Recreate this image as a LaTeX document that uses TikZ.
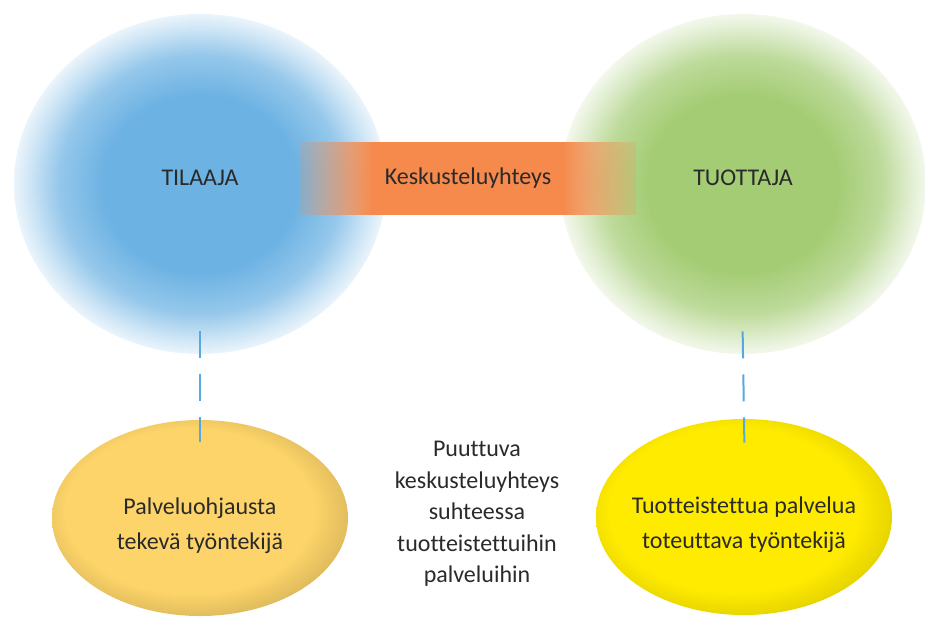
\documentclass[tikz,border=0pt]{standalone}
\usepackage{fontspec}
\setmainfont{Carlito}[Ligatures=NoCommon]
\usetikzlibrary{shapes.geometric,fadings}

\definecolor{tilaajaC}{HTML}{6CB2E3}
\definecolor{tuottajaC}{HTML}{A4CC74}
\definecolor{bandC}{HTML}{F58A4C}
\definecolor{palveluC}{HTML}{FDD469}
\definecolor{tuoteC}{HTML}{FFEB00}
\definecolor{dashC}{HTML}{55A8E0}
\definecolor{textC}{HTML}{2A2A2A}

\pgfdeclareradialshading{tilaajafuzz}{\pgfpoint{0bp}{0bp}}{color(0bp)=(tilaajaC); color(13bp)=(tilaajaC); color(19bp)=(tilaajaC!72!white); color(23bp)=(tilaajaC!32!white); color(25bp)=(tilaajaC!14!white); color(50bp)=(white)}
\pgfdeclareradialshading{tuottajafuzz}{\pgfpoint{0bp}{0bp}}{color(0bp)=(tuottajaC); color(13bp)=(tuottajaC); color(19bp)=(tuottajaC!72!white); color(23bp)=(tuottajaC!32!white); color(25bp)=(tuottajaC!14!white); color(50bp)=(white)}
\pgfdeclareradialshading{palveluball}{\pgfpoint{-3bp}{3bp}}{color(0bp)=(palveluC); color(21bp)=(palveluC); color(27bp)=(palveluC!88!black); color(32bp)=(palveluC!82!black); color(50bp)=(palveluC!82!black)}
\pgfdeclareradialshading{tuoteball}{\pgfpoint{-3bp}{3bp}}{color(0bp)=(tuoteC); color(21bp)=(tuoteC); color(27bp)=(tuoteC!90!black); color(32bp)=(tuoteC!84!black); color(50bp)=(tuoteC!84!black)}

\begin{tikzfadingfrompicture}[name=bandfade]
  \fill[transparent!100] (-50bp,-50bp) rectangle (50bp,50bp);
  \shade[left color=transparent!85, right color=transparent!0] (-25bp,-50bp) rectangle (-14bp,50bp);
  \fill[transparent!0] (-14bp,-50bp) rectangle (14bp,50bp);
  \shade[left color=transparent!0, right color=transparent!85] (14bp,-50bp) rectangle (25bp,50bp);
\end{tikzfadingfrompicture}

\tikzset{
  every node/.style={text=textC, font=\fontsize{12pt}{15.75pt}\selectfont},
  fuzzball/.style={ellipse, inner sep=0pt, minimum width=#1},
  caption/.style={align=center, font=\fontsize{12pt}{17.5pt}\selectfont, yshift=-4pt},
  dashline/.style={dashC, line width=1pt, dash pattern=on 13.5pt off 8pt}
}

\begin{document}
\begin{tikzpicture}[x=0.5pt, y=-0.5pt]
  \useasboundingbox (0,0) rectangle (925,622);
  \node[fuzzball=186pt, minimum height=170pt, shading=tilaajafuzz, text depth=6pt] (TIL) at (200,184) {TILAAJA};
  \node[fuzzball=183pt, minimum height=170pt, shading=tuottajafuzz, text depth=6pt] (TUO) at (743,184) {TUOTTAJA};
  \node[minimum width=168.5pt, minimum height=36.5pt, fill=bandC, path fading=bandfade] (K) at (468,178) {Keskusteluyhteys};
  \node[fuzzball=148pt, minimum height=98pt, shading=palveluball, label={[caption]center:Palveluohjausta\\tekevä työntekijä}] (PAL) at (200,518) {};
  \node[fuzzball=148pt, minimum height=98pt, shading=tuoteball, label={[caption]center:Tuotteistettua palvelua\\toteuttava työntekijä}] (TOT) at (744,517) {};
  \node[align=center] (P) at (477,514) {Puuttuva\\keskusteluyhteys\\suhteessa\\tuotteistettuihin\\palveluihin};
  \draw[dashline, shorten <=-11.5pt, shorten >=-11pt] (TIL.south) -- (PAL.north);
  \draw[dashline, shorten <=-11.5pt, shorten >=-12pt] (TUO.south) -- (TOT.north);
\end{tikzpicture}
\end{document}
